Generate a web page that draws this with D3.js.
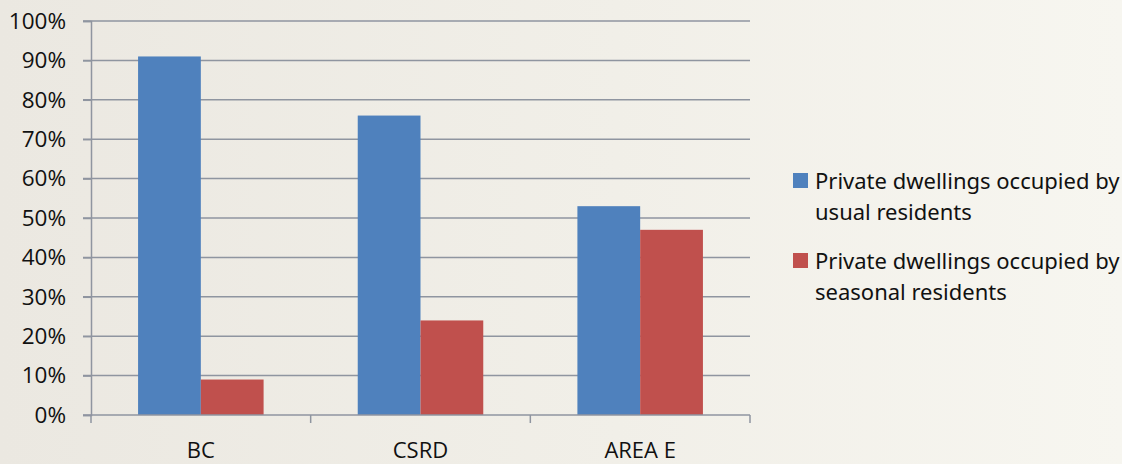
<!DOCTYPE html>
<html>
<head>
<meta charset="utf-8">
<script src="https://cdn.jsdelivr.net/npm/d3@7"></script>
<style>
  body { margin: 0; overflow: hidden; }
  svg { display: block; }
</style>
</head>
<body>
<script>
// chart data
var categories = ["BC", "CSRD", "AREA E"];
var usualValues = [91, 76, 53];
var seasonalValues = [9, 24, 47];
var yTicks = [0, 10, 20, 30, 40, 50, 60, 70, 80, 90, 100];
var legendLines = [["Private dwellings occupied by", "usual residents"],
                   ["Private dwellings occupied by", "seasonal residents"]];
var colors = ["#4f81bd", "#c0504d"];

var width = 1122, height = 464;
var margin = {left: 91, right: 372, top: 21, bottom: 49};

var svg = d3.select("body").append("svg")
    .attr("width", width)
    .attr("height", height);

// paper-like background
var grad = svg.append("defs").append("linearGradient")
    .attr("id", "bg").attr("x1", "0%").attr("x2", "100%").attr("y1", "0%").attr("y2", "0%");
grad.append("stop").attr("offset", "0%").attr("stop-color", "#ebe8e1");
grad.append("stop").attr("offset", "55%").attr("stop-color", "#f1efe8");
grad.append("stop").attr("offset", "100%").attr("stop-color", "#f7f6f0");
svg.append("rect").attr("width", width).attr("height", height).attr("fill", "url(#bg)");

var x0 = d3.scaleBand()
    .domain(categories)
    .range([margin.left, width - margin.right]);

var y = d3.scaleLinear()
    .domain([0, 100])
    .range([height - margin.bottom, margin.top]);

var gridColor = "#8f95a0";

// gridlines
svg.append("g")
  .selectAll("line")
  .data(yTicks.filter(function(d) { return d > 0; }))
  .join("line")
    .attr("x1", margin.left - 8)
    .attr("x2", width - margin.right)
    .attr("y1", function(d) { return y(d); })
    .attr("y2", function(d) { return y(d); })
    .attr("stroke", gridColor)
    .attr("stroke-width", 1.5);

// bars, gap width 150%
var barW = x0.bandwidth() / (2 + 1.5);
var groups = svg.append("g")
  .selectAll("g")
  .data(categories)
  .join("g")
    .attr("transform", function(d) { return "translate(" + x0(d) + ",0)"; });

groups.selectAll("rect")
  .data(function(d, i) { return [usualValues[i], seasonalValues[i]]; })
  .join("rect")
    .attr("x", function(d, j) { return barW * 0.75 + j * barW; })
    .attr("width", barW)
    .attr("y", function(d) { return y(d); })
    .attr("height", function(d) { return y(0) - y(d); })
    .attr("fill", function(d, j) { return colors[j]; });

// y axis
var yAxis = svg.append("g")
    .attr("transform", "translate(" + margin.left + ",0)")
    .call(d3.axisLeft(y).tickValues(yTicks).tickSize(8).tickPadding(17)
          .tickFormat(function(d) { return d + "%"; }));
yAxis.select(".domain").attr("stroke", gridColor).attr("stroke-width", 1.5);
yAxis.selectAll(".tick line").attr("stroke", gridColor).attr("stroke-width", 1.5);
yAxis.selectAll("text")
    .style("font-family", "'Open Sans', sans-serif")
    .style("font-size", "22.5px")
    .attr("fill", "#111");

// x axis
var xAxis = svg.append("g")
    .attr("transform", "translate(0," + y(0) + ")")
    .call(d3.axisBottom(x0).tickSize(0));
xAxis.select(".domain").remove();
xAxis.append("line")
    .attr("x1", margin.left - 8).attr("x2", width - margin.right)
    .attr("stroke", gridColor).attr("stroke-width", 1.5);
xAxis.selectAll(".sep")
  .data(d3.range(categories.length + 1))
  .join("line")
    .attr("class", "sep")
    .attr("x1", function(i) { return margin.left + i * x0.bandwidth(); })
    .attr("x2", function(i) { return margin.left + i * x0.bandwidth(); })
    .attr("y1", 0).attr("y2", 8)
    .attr("stroke", gridColor).attr("stroke-width", 1.5);
xAxis.selectAll(".tick text")
    .attr("y", 43).attr("dy", 0)
    .style("font-family", "'Open Sans', sans-serif")
    .style("font-size", "22px")
    .attr("fill", "#111");

// legend
var legend = svg.append("g")
  .selectAll("g")
  .data(legendLines)
  .join("g")
    .attr("transform", function(d, i) { return "translate(793," + (189 + i * 80) + ")"; });
legend.append("rect")
    .attr("x", 0).attr("y", -16)
    .attr("width", 15).attr("height", 15)
    .attr("fill", function(d, i) { return colors[i]; });
legend.append("text")
    .style("font-family", "'Noto Sans', sans-serif")
    .style("font-size", "22px")
    .attr("fill", "#111")
    .selectAll("tspan")
    .data(function(d) { return d; })
    .join("tspan")
      .attr("x", 22)
      .attr("y", function(d, k) { return k * 31; })
      .text(function(d) { return d; });
</script>
</body>
</html>
